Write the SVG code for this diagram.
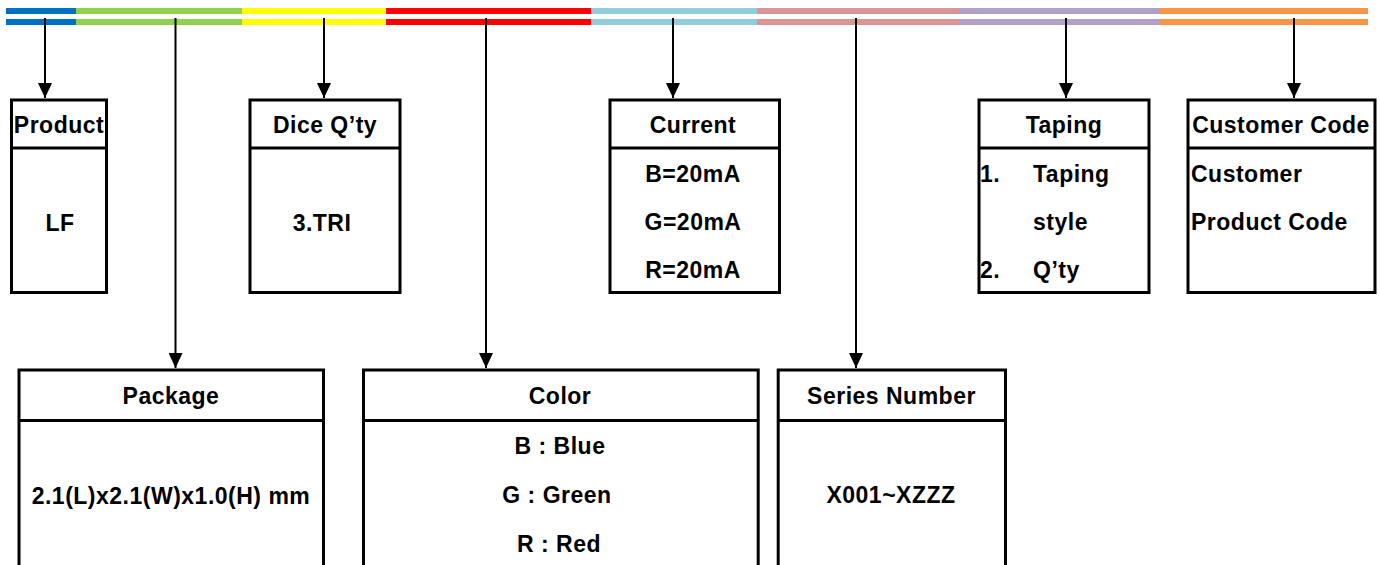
<svg xmlns="http://www.w3.org/2000/svg" width="1380" height="565" viewBox="0 0 1380 565">
<style>
.box{fill:#fff;stroke:#000;stroke-width:3}
.div{stroke:#000;stroke-width:3}
.t{font-family:"Liberation Sans",Arial,sans-serif;font-weight:bold;font-size:23px;letter-spacing:0.5px;fill:#000}
.c{text-anchor:middle}
.conn{stroke:#000;stroke-width:2;fill:none;marker-end:url(#ah)}
</style>
<defs>
<marker id="ah" markerUnits="userSpaceOnUse" markerWidth="15" markerHeight="14" refX="15" refY="7" orient="auto" viewBox="0 0 15 14">
<path d="M0,0 L15,7 L0,14 z" fill="#000"/>
</marker>
</defs>
<g id="bar">
<rect x="6" y="8" width="70" height="6" fill="#0070C0"/><rect x="6" y="19" width="70" height="6" fill="#0070C0"/>
<rect x="76" y="8" width="166" height="6" fill="#92D050"/><rect x="76" y="19" width="166" height="6" fill="#92D050"/>
<rect x="242" y="8" width="144" height="6" fill="#FFFF00"/><rect x="242" y="19" width="144" height="6" fill="#FFFF00"/>
<rect x="386" y="8" width="205" height="6" fill="#FF0000"/><rect x="386" y="19" width="205" height="6" fill="#FF0000"/>
<rect x="591" y="8" width="166" height="6" fill="#92CDDC"/><rect x="591" y="19" width="166" height="6" fill="#92CDDC"/>
<rect x="757" y="8" width="203" height="6" fill="#DA9694"/><rect x="757" y="19" width="203" height="6" fill="#DA9694"/>
<rect x="960" y="8" width="200" height="6" fill="#B1A0C7"/><rect x="960" y="19" width="200" height="6" fill="#B1A0C7"/>
<rect x="1160" y="8" width="208" height="6" fill="#F79646"/><rect x="1160" y="19" width="208" height="6" fill="#F79646"/>
</g>
<g id="connectors">
<line class="conn" x1="45" y1="18" x2="45" y2="98"/>
<line class="conn" x1="175.5" y1="18" x2="175.5" y2="368"/>
<line class="conn" x1="324" y1="18" x2="324" y2="98"/>
<line class="conn" x1="486" y1="18" x2="486" y2="368"/>
<line class="conn" x1="673" y1="18" x2="673" y2="98"/>
<line class="conn" x1="856" y1="18" x2="856" y2="368"/>
<line class="conn" x1="1066" y1="18" x2="1066" y2="98"/>
<line class="conn" x1="1294" y1="18" x2="1294" y2="98"/>
</g>
<g id="product">
<rect class="box" x="11.5" y="100" width="95" height="192.5"/>
<line class="div" x1="11.5" y1="148" x2="106.5" y2="148"/>
<text class="t c" x="59" y="132.5">Product</text>
<text class="t c" x="60" y="231">LF</text>
</g>
<g id="dice">
<rect class="box" x="250" y="100" width="150" height="192.5"/>
<line class="div" x1="250" y1="148" x2="400" y2="148"/>
<text class="t c" x="325" y="132.5">Dice Q’ty</text>
<text class="t c" x="322" y="231">3.TRI</text>
</g>
<g id="current">
<rect class="box" x="610" y="100" width="169.5" height="192.5"/>
<line class="div" x1="610" y1="148" x2="779.5" y2="148"/>
<text class="t c" x="693" y="132.5">Current</text>
<text class="t c" x="693" y="182">B=20mA</text>
<text class="t c" x="693" y="229.5">G=20mA</text>
<text class="t c" x="693" y="277.5">R=20mA</text>
</g>
<g id="taping">
<rect class="box" x="979" y="100" width="170" height="192.5"/>
<line class="div" x1="979" y1="148" x2="1149" y2="148"/>
<text class="t c" x="1064" y="132.5">Taping</text>
<text class="t" x="980" y="182">1.</text>
<text class="t" x="1033" y="182">Taping</text>
<text class="t" x="1033" y="229.5">style</text>
<text class="t" x="980" y="277.5">2.</text>
<text class="t" x="1033" y="277.5">Q’ty</text>
</g>
<g id="customer">
<rect class="box" x="1188" y="100" width="187" height="192.5"/>
<line class="div" x1="1188" y1="148" x2="1375" y2="148"/>
<text class="t c" x="1281" y="132.5">Customer Code</text>
<text class="t" x="1191" y="182">Customer</text>
<text class="t" x="1191" y="229.5">Product Code</text>
</g>
<g id="package">
<rect class="box" x="19" y="370" width="304.5" height="210"/>
<line class="div" x1="19" y1="420.5" x2="323.5" y2="420.5"/>
<text class="t c" x="171" y="404">Package</text>
<text class="t c" x="171" y="503.5">2.1(L)x2.1(W)x1.0(H) mm</text>
</g>
<g id="color">
<rect class="box" x="363.5" y="370" width="394.7" height="210"/>
<line class="div" x1="363.5" y1="420.5" x2="758.2" y2="420.5"/>
<text class="t c" x="560" y="404">Color</text>
<text class="t c" x="560" y="454">B : Blue</text>
<text class="t c" x="557" y="503">G : Green</text>
<text class="t c" x="559" y="552">R : Red</text>
</g>
<g id="series">
<rect class="box" x="778.2" y="370" width="227.3" height="210"/>
<line class="div" x1="778.2" y1="420.5" x2="1005.5" y2="420.5"/>
<text class="t c" x="891.5" y="404">Series Number</text>
<text class="t c" x="891" y="503">X001~XZZZ</text>
</g>
</svg>
